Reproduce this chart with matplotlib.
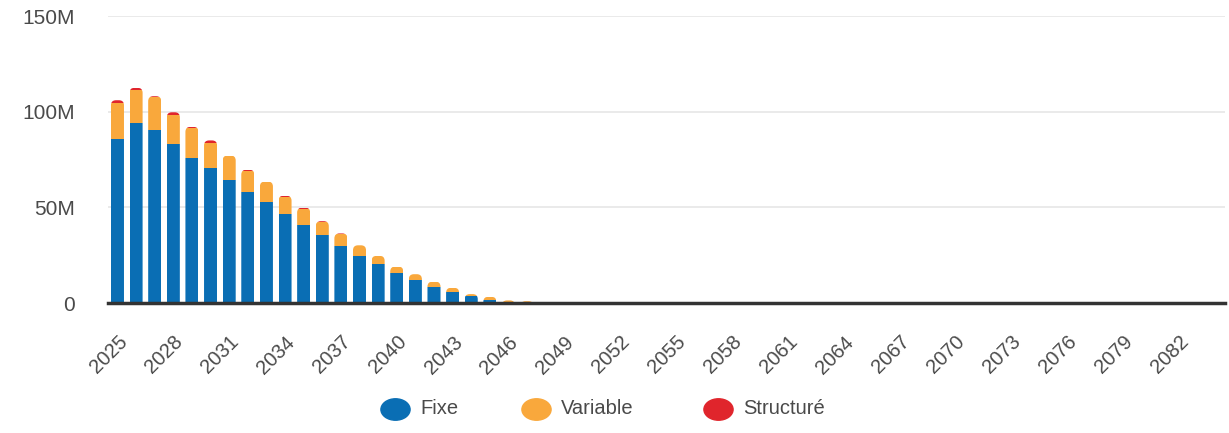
import numpy as np
import matplotlib.pyplot as plt
from matplotlib.lines import Line2D
from matplotlib.patches import FancyBboxPatch
from matplotlib.path import Path
from matplotlib.transforms import Affine2D

plt.rcParams['font.family'] = ['Liberation Sans', 'DejaVu Sans']

annees = list(range(2025, 2085))

# encours en millions, par type de taux
fixe = [85.8, 94.0, 90.5, 83.0, 76.0, 70.5, 64.4, 58.0, 52.8, 46.3,
        40.7, 35.4, 30.0, 24.7, 20.4, 15.6, 12.1, 8.6, 5.6, 3.7,
        1.6, 0.5, 0.2, 0.1]
variable = [18.7, 17.3, 17.0, 15.3, 15.6, 13.3, 12.2, 11.2, 10.3, 9.3,
            8.6, 7.2, 6.2, 5.5, 4.3, 3.5, 3.0, 2.6, 2.4, 1.0,
            1.7, 0.9, 0.8, 0.7]
structure = [1.5, 1.2, 0.6, 1.4, 0.5, 1.2, 0.5, 0.5, 0.4, 0.5,
             0.6, 0.2, 0.2, 0.0, 0.0, 0.0, 0.0, 0.0, 0.0, 0.0,
             0.0, 0.0, 0.0, 0.0]
series = ['Fixe', 'Variable', 'Structuré']

n = len(annees)
fixe = np.array(fixe + [0] * (n - len(fixe))) * 1e6
variable = np.array(variable + [0] * (n - len(variable))) * 1e6
structure = np.array(structure + [0] * (n - len(structure))) * 1e6

bleu = '#0a6eb4'
orange = '#f9a83c'
rouge = '#e0252c'
texte = '#4a4a4a'

W, H = 1229, 433
fig = plt.figure(figsize=(W / 100, H / 100), dpi=100)
ax = fig.add_axes([0.088, 0.300, 0.909, 0.663])

x = np.arange(n)
w = 0.7
ymax = 150e6
ax.set_xlim(-0.5, n - 0.5)
ax.set_ylim(0, ymax)

b1 = ax.bar(x, fixe, w, color=bleu, zorder=2)
b2 = ax.bar(x, variable, w, bottom=fixe, color=orange, zorder=2)
b3 = ax.bar(x, structure, w, bottom=fixe + variable, color=rouge, zorder=2)

# arrondi du haut des colonnes (rayon ~5 px)
axw = 0.909 * W
axh = 0.663 * H
r_px = 5.0
rx = r_px / (axw / n)
ry = r_px / (axh / ymax)
totaux = fixe + variable + structure
for i in range(n):
    if totaux[i] <= 0:
        continue
    bas = -3 * ry
    clip = FancyBboxPatch((x[i] - w / 2, bas), w, totaux[i] - bas,
                          boxstyle='round,pad=0,rounding_size=%f' % rx,
                          mutation_aspect=ry / rx, transform=ax.transData)
    for cont in (b1, b2, b3):
        cont[i].set_clip_path(clip)

ax.set_yticks([0, 50e6, 100e6, 150e6])
ax.set_yticklabels(['0', '50M', '100M', '150M'])
ax.grid(axis='y', color='#e6e6e6', linewidth=1.2, zorder=0)

ax.set_xticks(x[::3])
ax.set_xticklabels([str(a) for a in annees[::3]], rotation=45, ha='right',
                   rotation_mode='anchor')

for s in ['top', 'right', 'left']:
    ax.spines[s].set_visible(False)
ax.spines['bottom'].set_color('#333333')
ax.spines['bottom'].set_linewidth(2.5)
ax.spines['bottom'].set_zorder(3)
ax.tick_params(axis='y', length=0, labelsize=15, colors=texte, pad=24)
ax.tick_params(axis='x', length=0, labelsize=14.5, colors=texte, pad=21)

# légende : pastilles ovales sous le graphique
cercle = Path.unit_circle()
ovale = Path(Affine2D().scale(1.36, 1.0).transform(cercle.vertices), cercle.codes)
leg_x = [395, 536, 718]
leg_y = 409
for xc, c, nom in zip(leg_x, (bleu, orange, rouge), series):
    fig.add_artist(Line2D([xc / W], [1 - leg_y / H], marker=ovale,
                          markersize=21, color=c, linestyle='',
                          transform=fig.transFigure))
    fig.text((xc + 25) / W, 1 - leg_y / H, nom, fontsize=14.5, color=texte,
             va='center', ha='left')

fig.savefig('out.png', dpi=100)
